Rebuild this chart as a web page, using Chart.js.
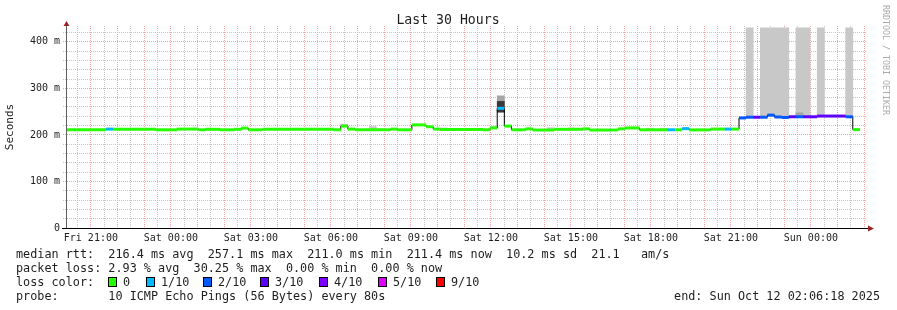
<!DOCTYPE html>
<html>
<head>
<meta charset="utf-8">
<script src="https://cdn.jsdelivr.net/npm/chart.js@4.4.1/dist/chart.umd.min.js"></script>
<style>
  html, body { margin: 0; padding: 0; background: #fff; }
  canvas { display: block; }
</style>
</head>
<body>
<canvas id="chart" width="897" height="310"></canvas>
<script>
const FONT = "'DejaVu Sans Mono', monospace";

// x axis is hours since Fri 00:00, the graph ends Sun 02:06:18
const START = 20 + 6 / 60 + 18 / 3600;
const HOURS = 30;
const ROW_H = 16 / 60;              // one rrd row = 16 min
const FIRST_ROW = START - 8 / 60;   // first row is half hidden
const DAYS = ['Fri', 'Sat', 'Sun'];
const Y_MAX = 434;

// median rtt, as runs of rows: row count, median (ms), lost pings out of 10
const runRows = [6, 1, 6, 3, 3, 1, 2, 2, 1, 1,
                 2, 10, 1, 1, 1, 5, 1, 2, 2, 1,
                 1, 6, 1, 1, 1, 1, 2, 1, 3, 4,
                 1, 4, 1, 2, 4, 1, 1, 1, 3, 2,
                 1, 1, 1, 1, 1, 1, 1, 1, 1, 1,
                 1, 2, 4, 1, 1];
const medianMs = [211.0, 212.5, 212.0, 211.0, 212.5, 211.0, 212.0, 211.0, 212.0, 214.5,
                  211.0, 212.0, 211.0, 219.0, 212.5, 211.0, 212.5, 211.0, 221.5, 217.5,
                  212.5, 211.5, 211.0, 215.0, 257.1, 219.0, 211.0, 213.0, 210.5, 212.0,
                  213.0, 210.5, 213.0, 215.0, 211.0, 211.0, 211.0, 213.5, 210.8, 212.5,
                  212.5, 212.5, 236.5, 238.0, 238.0, 238.0, 242.5, 238.5, 237.5, 239.0,
                  239.0, 239.0, 240.5, 239.0, 211.4];
const lossTenth = [0, 1, 0, 0, 0, 0, 0, 0, 0, 0,
                   0, 0, 0, 0, 0, 0, 0, 0, 0, 0,
                   0, 0, 0, 0, 1, 0, 0, 0, 0, 0,
                   0, 0, 0, 0, 0, 1, 0, 1, 0, 0,
                   1, 0, 2, 2, 3, 2, 2, 2, 2, 3,
                   2, 3, 3, 2, 0];

// smoke (spread of the single pings), light layer starts at the row median
const smokeRows  = [18, 20, 39, 43, 53, 60, 68, 71, 82, 84, 96, 98, 99, 100, 101, 103, 104, 106, 110];
const smokeTopMs = [214.5, 214.5, 223, 218, 215, 218, 215.5, 215, 214.5, 214.5,
                    430, 430, 430, 430, 430, 430, 430, 430, 430];
const midRows  = [61, 103];
const midLoMs  = [249, 239];
const midTopMs = [284, 247.5];
const darkRows  = [61];
const darkLoMs  = [249];
const darkTopMs = [272];

const lossColors = {0: '#26ff00', 1: '#00b8ff', 2: '#0059ff', 3: '#5e00ff', 4: '#7e00ff', 5: '#dd00ff', 9: '#ff0000'};
const legendLoss = [0, 1, 2, 3, 4, 5, 9];
const legendNames = ['0', '1/10', '2/10', '3/10', '4/10', '5/10', '9/10'];
const legendBoxX = [108, 146, 203, 260, 319, 378, 436];

const legendLines = [
    'median rtt:  216.4 ms avg  257.1 ms max  211.0 ms min  211.4 ms now  10.2 ms sd  21.1   am/s',
    'packet loss: 2.93 % avg  30.25 % max  0.00 % min  0.00 % now',
    'loss color:',
    'probe:       10 ICMP Echo Pings (56 Bytes) every 80s'
];
const endText = 'end: Sun Oct 12 02:06:18 2025';

// expand the runs into line points
const rowMedian = [];
const blackPts = [];
const colorPts = [];
const colorLoss = [];
let row = 0;
runRows.forEach((n, i) => {
    const t0 = FIRST_ROW + row * ROW_H;
    const t1 = FIRST_ROW + (row + n) * ROW_H;
    blackPts.push({x: t0, y: medianMs[i]});
    colorPts.push({x: t0, y: medianMs[i]}, {x: t1, y: medianMs[i]}, {x: t1, y: null});
    colorLoss.push(lossTenth[i], lossTenth[i], lossTenth[i]);
    for (let j = 0; j < n; j++) rowMedian.push(medianMs[i]);
    row += n;
});
blackPts.push({x: FIRST_ROW + row * ROW_H, y: medianMs[medianMs.length - 1]});

const rowMid = k => FIRST_ROW + (k + 0.5) * ROW_H;
const smokeLight = smokeRows.map((k, i) => ({x: rowMid(k), y: [rowMedian[k], smokeTopMs[i]]}));
const smokeMid = midRows.map((k, i) => ({x: rowMid(k), y: [midLoMs[i], midTopMs[i]]}));
const smokeDark = darkRows.map((k, i) => ({x: rowMid(k), y: [darkLoMs[i], darkTopMs[i]]}));

function pad2(n) {
    return String(n).padStart(2, '0');
}

function timeLabel(h) {
    return DAYS[Math.floor(h / 24)] + ' ' + pad2(h % 24) + ':00';
}

const MAJOR = '#f2a3a3';
const MINOR = '#c6c6c6';

const smokeBar = (data, color, order) => ({
    type: 'bar',
    data: data,
    backgroundColor: color,
    borderWidth: 0,
    barPercentage: 1,
    categoryPercentage: 1,
    grouped: false,
    order: order
});

// title, watermark, axis arrows and the rrd style legend
const decorations = {
    id: 'decorations',
    afterDraw(chart) {
        const ctx = chart.ctx;
        const a = chart.chartArea;
        ctx.save();

        ctx.lineWidth = 1;
        ctx.strokeStyle = '#606060';
        ctx.beginPath();
        ctx.moveTo(a.left - 0.5, a.bottom);
        ctx.lineTo(a.left - 0.5, a.top - 3);
        ctx.stroke();
        ctx.strokeStyle = '#000';
        ctx.beginPath();
        ctx.moveTo(a.left - 5, a.bottom + 0.5);
        ctx.lineTo(a.right + 2, a.bottom + 0.5);
        ctx.stroke();

        ctx.fillStyle = '#9a2525';
        ctx.beginPath();
        ctx.moveTo(a.left - 0.5, a.top - 5);
        ctx.lineTo(a.left - 3.5, a.top);
        ctx.lineTo(a.left + 2.5, a.top);
        ctx.closePath();
        ctx.fill();
        ctx.beginPath();
        ctx.moveTo(a.right + 7, a.bottom + 0.5);
        ctx.lineTo(a.right + 1, a.bottom - 2.5);
        ctx.lineTo(a.right + 1, a.bottom + 3.5);
        ctx.closePath();
        ctx.fill();

        ctx.fillStyle = '#1e1e1e';
        ctx.textBaseline = 'alphabetic';
        ctx.textAlign = 'center';
        ctx.font = '13.2px ' + FONT;
        ctx.fillText('Last 30 Hours', 448, 24);

        ctx.save();
        ctx.translate(883, 5);
        ctx.rotate(Math.PI / 2);
        ctx.textAlign = 'left';
        ctx.font = '8.3px ' + FONT;
        ctx.fillStyle = '#ababab';
        ctx.fillText('RRDTOOL / TOBI OETIKER', 0, 0);
        ctx.restore();

        ctx.font = '11.8px ' + FONT;
        ctx.textAlign = 'left';
        ctx.fillStyle = '#1e1e1e';
        legendLines.forEach((line, i) => {
            ctx.fillText(line, 16, 258 + i * 14);
        });
        ctx.textAlign = 'right';
        ctx.fillText(endText, 880, 300);

        ctx.textAlign = 'left';
        legendLoss.forEach((loss, i) => {
            const x = legendBoxX[i];
            ctx.fillStyle = lossColors[loss];
            ctx.fillRect(x, 277, 9, 10);
            ctx.strokeStyle = '#000';
            ctx.strokeRect(x + 0.5, 277.5, 8, 9);
            ctx.fillStyle = '#1e1e1e';
            ctx.fillText(legendNames[i], x + 15, 286);
        });

        ctx.restore();
    }
};

new Chart(document.getElementById('chart'), {
    type: 'line',
    data: {
        datasets: [
            {
                data: colorPts,
                borderColor: lossColors[0],
                borderWidth: 3,
                pointRadius: 0,
                spanGaps: false,
                segment: {
                    borderColor: c => lossColors[colorLoss[c.p0DataIndex]]
                },
                order: 1
            },
            {
                data: blackPts,
                borderColor: '#000',
                borderWidth: 1,
                pointRadius: 0,
                stepped: 'before',
                order: 2
            },
            smokeBar(smokeDark, '#3a3a3a', 3),
            smokeBar(smokeMid, '#a6a6a6', 4),
            smokeBar(smokeLight, '#c8c8c8', 5)
        ]
    },
    options: {
        responsive: false,
        devicePixelRatio: 1,
        animation: false,
        layout: {padding: {top: 26, right: 30, left: 0, bottom: 0}},
        plugins: {
            legend: {display: false},
            title: {display: false},
            tooltip: {enabled: false}
        },
        scales: {
            x: {
                type: 'linear',
                min: START,
                max: START + HOURS,
                offset: false,
                afterBuildTicks: scale => {
                    const ticks = [];
                    for (let h = Math.ceil(START * 2) / 2; h <= START + HOURS; h += 0.5) {
                        ticks.push({value: h});
                    }
                    scale.ticks = ticks;
                },
                afterFit: scale => { scale.height = 82; },
                grid: {
                    color: c => (c.tick && c.tick.value % 1 === 0) ? MAJOR : MINOR,
                    lineWidth: 1,
                    drawTicks: false,
                    offset: false
                },
                border: {display: false, dash: [1, 1]},
                ticks: {
                    autoSkip: false,
                    maxRotation: 0,
                    minRotation: 0,
                    padding: 4,
                    color: '#1e1e1e',
                    font: {family: FONT, size: 10},
                    callback: v => v % 3 === 0 ? timeLabel(v) : ''
                }
            },
            y: {
                min: 0,
                max: Y_MAX,
                afterBuildTicks: scale => {
                    const ticks = [];
                    for (let v = 0; v <= 420; v += 20) ticks.push({value: v});
                    scale.ticks = ticks;
                },
                afterFit: scale => { scale.width = 67; },
                grid: {
                    color: c => (c.tick && c.tick.value % 100 === 0) ? MAJOR : MINOR,
                    lineWidth: 1,
                    tickLength: 4,
                    tickBorderDash: [1, 1]
                },
                border: {display: false, dash: [1, 1]},
                ticks: {
                    autoSkip: false,
                    padding: 3,
                    color: '#1e1e1e',
                    font: {family: FONT, size: 10},
                    callback: v => v % 100 === 0 ? (v === 0 ? '0' : v + ' m') : ''
                },
                title: {
                    display: true,
                    text: 'Seconds',
                    color: '#1e1e1e',
                    font: {family: FONT, size: 11},
                    padding: {top: 4, bottom: 0}
                }
            }
        }
    },
    plugins: [decorations]
});
</script>
</body>
</html>
